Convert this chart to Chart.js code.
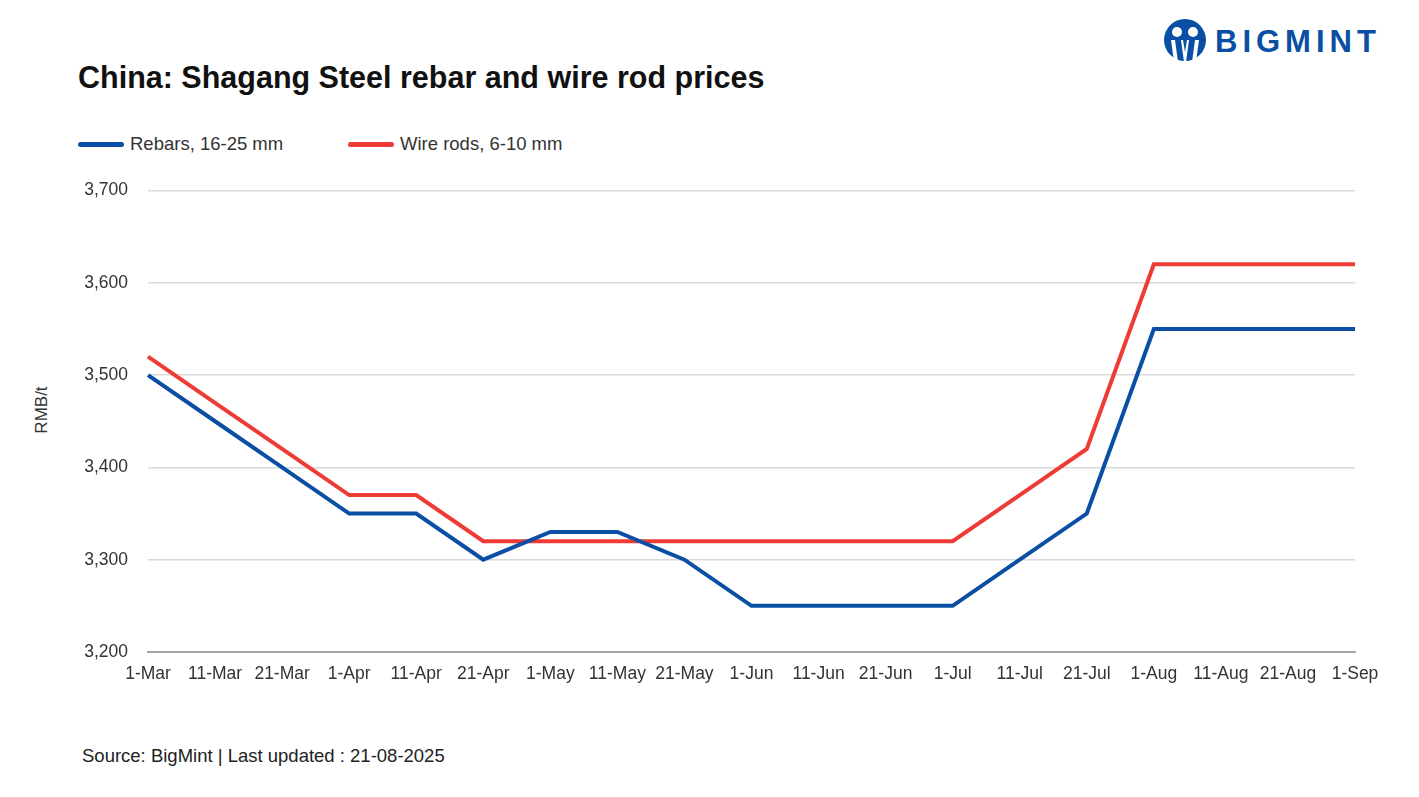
<!DOCTYPE html>
<html>
<head>
<meta charset="utf-8">
<script src="https://cdn.jsdelivr.net/npm/chart.js@4.4.1/dist/chart.umd.min.js"></script>
<style>
    body { margin: 0; background: #fff; font-family: "Liberation Sans", Arial, sans-serif; color: #222; }
    #page { position: relative; width: 1419px; height: 797px; overflow: hidden; }
    #title { position: absolute; left: 78px; top: 60px; font-size: 30.5px; font-weight: bold; color: #111; }
    .legend { position: absolute; top: 133px; font-size: 18.5px; color: #333; display: flex; align-items: center; }
    .legend span.swatch { display: inline-block; width: 46px; height: 5px; border-radius: 3px; margin-right: 6px; }
    #ytitle { position: absolute; left: 12px; top: 400px; width: 60px; text-align: center; transform: rotate(-90deg); font-size: 17px; color: #333; }
    #source { position: absolute; left: 82px; top: 745px; font-size: 18.5px; color: #222; }
    #logo { position: absolute; left: 1163px; top: 18px; display: flex; align-items: center; }
    #logo .word { font-size: 31px; font-weight: bold; color: #0a4fa3; letter-spacing: 5px; margin-left: 8px; }
    #chartBox { position: absolute; left: 0; top: 160px; width: 1419px; height: 529px; }
</style>
</head>
<body>
<div id="page">
    <div id="logo">
        <svg width="44" height="48" viewBox="0 0 44 48">
            <circle cx="22" cy="22" r="21" fill="#0a4fa3"/>
            <circle cx="14" cy="14" r="5" fill="#fff"/>
            <circle cx="30" cy="14" r="5" fill="#fff"/>
            <path d="M8 22 L12 22 L15 44 L11 44 Z" fill="#fff"/>
            <path d="M36 22 L32 22 L29 44 L33 44 Z" fill="#fff"/>
            <path d="M18 22 L20 22 L22 34 L24 22 L26 22 L23 44 L21 44 Z" fill="#fff"/>
        </svg>
        <span class="word">BIGMINT</span>
    </div>
    <div id="title">China: Shagang Steel rebar and wire rod prices</div>
    <div class="legend" style="left:78px"><span class="swatch" style="background:#0a4fa3"></span>Rebars, 16-25 mm</div>
    <div class="legend" style="left:348px"><span class="swatch" style="background:#ef3b36"></span>Wire rods, 6-10 mm</div>
    <div id="ytitle">RMB/t</div>
    <div id="chartBox"><canvas id="priceChart"></canvas></div>
    <div id="source">Source: BigMint | Last updated : 21-08-2025</div>
</div>
<script>
// --- Data ---
const dates = ['1-Mar', '11-Mar', '21-Mar', '1-Apr', '11-Apr', '21-Apr', '1-May', '11-May', '21-May',
    '1-Jun', '11-Jun', '21-Jun', '1-Jul', '11-Jul', '21-Jul', '1-Aug', '11-Aug', '21-Aug', '1-Sep'];
const rebars = [3500, 3450, 3400, 3350, 3350, 3300, 3330, 3330, 3300,
    3250, 3250, 3250, 3250, 3300, 3350, 3550, 3550, 3550, 3550];
const wireRods = [3520, 3470, 3420, 3370, 3370, 3320, 3320, 3320, 3320,
    3320, 3320, 3320, 3320, 3370, 3420, 3620, 3620, 3620, 3620];
const yMin = 3200;
const yMax = 3700;
const yStep = 100;

document.addEventListener('DOMContentLoaded', function() {
    const ctx = document.getElementById('priceChart');
    const tickFont = { family: '"Liberation Sans", Arial, sans-serif', size: 17.5 };

    new Chart(ctx, {
        type: 'line',
        data: {
            labels: dates,
            datasets: [
                {
                    label: 'Rebars, 16-25 mm',
                    data: rebars,
                    borderColor: '#0a4fa3',
                    borderWidth: 4,
                    pointRadius: 0,
                    tension: 0
                },
                {
                    label: 'Wire rods, 6-10 mm',
                    data: wireRods,
                    borderColor: '#ef3b36',
                    borderWidth: 4,
                    pointRadius: 0,
                    tension: 0
                }
            ]
        },
        options: {
            responsive: true,
            maintainAspectRatio: false,
            animation: false,
            layout: { padding: { left: 0, top: 30, right: 64, bottom: 0 } },
            plugins: {
                legend: { display: false },
                tooltip: { enabled: false }
            },
            scales: {
                x: {
                    offset: false,
                    grid: { display: false },
                    border: { color: '#a6a6a6', width: 2 },
                    ticks: { color: '#333', font: tickFont, padding: 4, maxRotation: 0, autoSkip: false }
                },
                y: {
                    min: yMin,
                    max: yMax,
                    afterFit: function(scale) { scale.width = 148; },
                    grid: { color: '#d9d9d9', lineWidth: 1.5, drawTicks: false },
                    border: { display: false },
                    ticks: {
                        stepSize: yStep,
                        color: '#333',
                        font: tickFont,
                        padding: 20,
                        callback: function(v) { return v.toLocaleString('en-US'); }
                    }
                }
            }
        }
    });
});
</script>
</body>
</html>
